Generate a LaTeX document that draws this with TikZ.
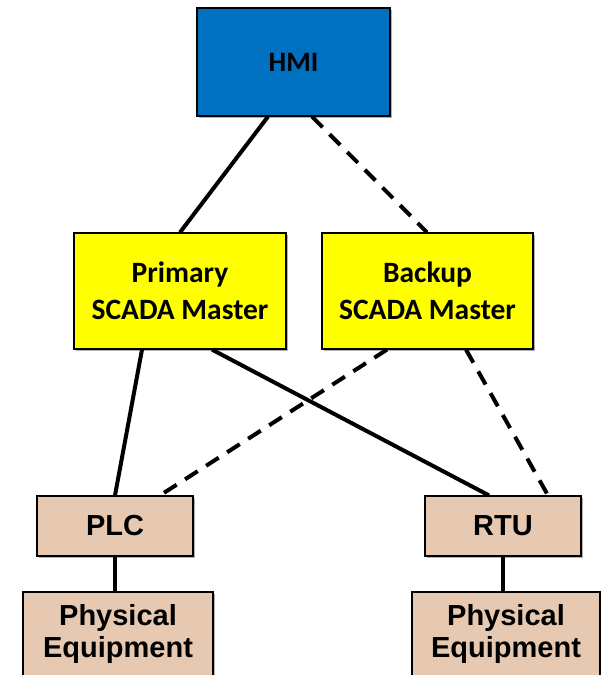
\documentclass[tikz,border=0pt]{standalone}
\usepackage{fontspec}
\newfontfamily\calfont{Carlito}
\newfontfamily\arfont{Liberation Sans}
\usetikzlibrary{shadows}
\definecolor{hmiblue}{RGB}{0,112,192}
\definecolor{mastery}{RGB}{255,255,0}
\definecolor{fieldtan}{RGB}{230,201,176}
\tikzset{
  box/.style={draw=black, line width=1.2pt, rectangle, align=center, inner sep=0pt,
    drop shadow={shadow xshift=1.5pt, shadow yshift=-1.5pt, opacity=0.3, fill=black}},
  hmibox/.style={box, fill=hmiblue, minimum width=193pt, minimum height=108pt,
    font=\calfont\bfseries\fontsize{28}{34}\selectfont},
  masterbox/.style={box, fill=mastery, minimum width=211pt, minimum height=116pt,
    font=\calfont\bfseries\fontsize{29.5}{37}\selectfont},
  devbox/.style={box, fill=fieldtan, minimum width=156pt, minimum height=60pt,
    font=\arfont\bfseries\fontsize{29}{32}\selectfont},
  equipbox/.style={box, fill=fieldtan, minimum height=84pt,
    font=\arfont\bfseries\fontsize{29}{32}\selectfont},
  link/.style={line width=4pt, black},
  backuplink/.style={link, dash pattern=on 15pt off 10pt}
}
\begin{document}
\begin{tikzpicture}[x=1pt, y=-1pt]
  \useasboundingbox (0,0) rectangle (601,675);
  \clip (0,0) rectangle (601,675);

  % control and supervisory tier
  \node[hmibox] (hmi) at (293.5,62) {HMI};
  \node[masterbox, minimum width=212pt] (primary) at (180,291) {Primary\\SCADA Master};
  \node[masterbox] (backup) at (427.5,291) {Backup\\SCADA Master};

  % field devices
  \node[devbox] (plc) at (115,526) {PLC};
  \node[devbox] (rtu) at (503,526) {RTU};
  \node[equipbox, minimum width=190pt] (eqleft) at (118,634) {Physical\\Equipment};
  \node[equipbox, minimum width=188pt] (eqright) at (506,634) {Physical\\Equipment};

  % primary links (solid)
  \draw[link] ([xshift=-25.5pt]hmi.south) -- (primary.north);
  \draw[link] ([xshift=-38pt]primary.south) -- (plc.north);
  \draw[link] ([xshift=32pt]primary.south) -- ([xshift=-14pt]rtu.north);

  % backup links (dashed)
  \draw[backuplink] ([xshift=18.5pt]hmi.south) -- ([xshift=-0.5pt]backup.north);
  \draw[backuplink] ([xshift=-40.5pt]backup.south) -- ([xshift=45pt]plc.north);
  \draw[backuplink] ([xshift=38.5pt]backup.south) -- ([xshift=45pt]rtu.north);

  % devices to equipment
  \draw[link] (plc.south) -- (plc.south |- eqleft.north);
  \draw[link] (rtu.south) -- (rtu.south |- eqright.north);
\end{tikzpicture}
\end{document}
